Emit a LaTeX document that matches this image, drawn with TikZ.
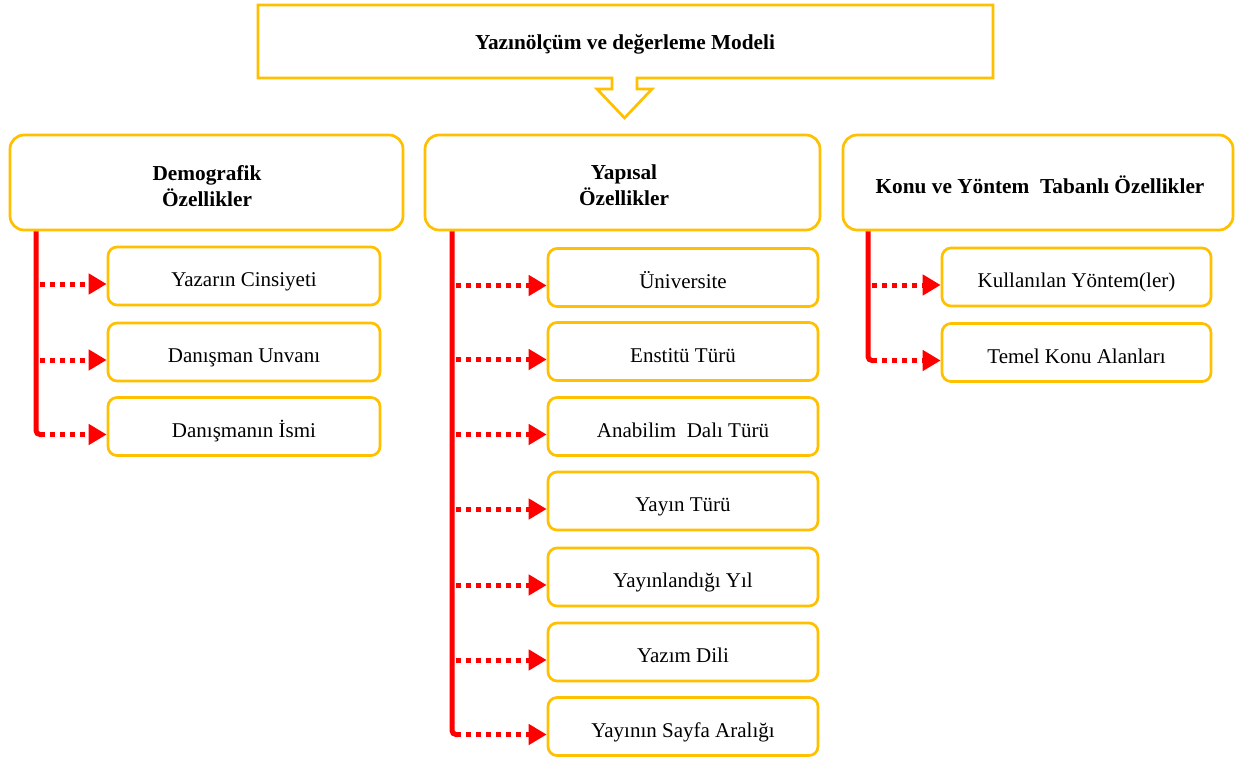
\documentclass[tikz,border=0pt]{standalone}
\usepackage{fontspec}
\setmainfont{Liberation Serif}
\usetikzlibrary{arrows.meta,calc}
\definecolor{gold}{HTML}{FFC000}
\definecolor{myred}{HTML}{FF0000}
\begin{document}
\begin{tikzpicture}[x=1pt,y=-1pt,
  hdr/.style={draw=gold,line width=2.7pt,rounded corners=14pt,fill=white,align=center,
    font=\fontsize{21.3}{26}\selectfont\bfseries,inner sep=0pt,minimum height=95pt},
  sub/.style={draw=gold,line width=2.7pt,rounded corners=9pt,fill=white,minimum height=58pt,
    inner sep=0pt,text height=25pt,text depth=4pt,font=\fontsize{21}{24}\selectfont},
  trunk/.style={draw=myred,line width=5pt,rounded corners=4pt},
  dotarrow/.style={draw=myred,line width=5pt,dash pattern=on 5pt off 5pt,
    -{Triangle[length=18pt,width=20pt,fill=myred]}}
]
\useasboundingbox (0,0) rectangle (1236,763);
\fill[white] (0,0) rectangle (1236,763);

% top callout
\draw[draw=gold,line width=2.7pt,line join=miter]
  (258,5) -- (993,5) -- (993,78) -- (637,78) -- (637,89) -- (652,89) -- (624.5,118)
  -- (597,89) -- (612,89) -- (612,78) -- (258,78) -- cycle;
\node[font=\fontsize{21.3}{24}\selectfont\bfseries] (title) at (625,44) {Yazınölçüm ve değerleme Modeli};

% headers
\node[hdr,minimum width=393pt] (H1) at (206.5,182.5) {};
\node[font=\fontsize{21.3}{26}\selectfont\bfseries,align=center] (H1t) at (207,186) {Demografik\\Özellikler};
\node[hdr,minimum width=395pt] (H2) at (622.5,182.5) {};
\node[font=\fontsize{21.3}{26}\selectfont\bfseries,align=center] (H2t) at (624,185) {Yapısal\\Özellikler};
\node[hdr,minimum width=390pt] (H3) at (1038,182.5) {};
\node[font=\fontsize{21.3}{26}\selectfont\bfseries] (H3t) at (1040,185) {Konu ve Yöntem\ \ Tabanlı Özellikler};

% left items
\node[sub,minimum width=272pt] (L1) at (244,276) {Yazarın Cinsiyeti};
\node[sub,minimum width=272pt] (L2) at (244,352) {Danışman Unvanı};
\node[sub,minimum width=272pt] (L3) at (244,426.5) {Danışmanın İsmi};

% middle items
\node[sub,minimum width=270pt] (M1) at (683,277.5) {Üniversite};
\node[sub,minimum width=270pt] (M2) at (683,351.5) {Enstitü Türü};
\node[sub,minimum width=270pt] (M3) at (683,426.5) {Anabilim\ \ Dalı Türü};
\node[sub,minimum width=270pt] (M4) at (683,501) {Yayın Türü};
\node[sub,minimum width=270pt] (M5) at (683,577) {Yayınlandığı Yıl};
\node[sub,minimum width=270pt] (M6) at (683,652) {Yazım Dili};
\node[sub,minimum width=270pt] (M7) at (683,726.5) {Yayının Sayfa Aralığı};

% right items
\node[sub,minimum width=269pt] (R1) at (1076.5,277) {Kullanılan Yöntem(ler)};
\node[sub,minimum width=269pt] (R2) at (1076.5,352.5) {Temel Konu Alanları};

% trunk x positions
\coordinate (Lx) at (36,0);
\coordinate (Mx) at (452,0);
\coordinate (Rx) at (868,0);

% arrow rows
\foreach \n in {L1,L2,L3,M1,M2,M3,M4,M5,M6,M7,R1,R2}{
  \coordinate (a\n) at ($(\n.west)+(0,8)$);
}

% trunks
\draw[trunk] (H1.south -| Lx) -- (aL3 -| Lx) -- ($(aL3 -| Lx)+(6,0)$);
\draw[trunk] (H2.south -| Mx) -- (aM7 -| Mx) -- ($(aM7 -| Mx)+(6,0)$);
\draw[trunk] (H3.south -| Rx) -- (aR2 -| Rx) -- ($(aR2 -| Rx)+(6,0)$);

% dotted arrows
\foreach \n in {L1,L2,L3}{
  \draw[dotarrow] ($(a\n -| Lx)+(4,0)$) -- (a\n);
}
\foreach \n in {M1,M2,M3,M4,M5,M6,M7}{
  \draw[dotarrow] ($(a\n -| Mx)+(4,0)$) -- (a\n);
}
\foreach \n in {R1,R2}{
  \draw[dotarrow] ($(a\n -| Rx)+(4,0)$) -- (a\n);
}
\end{tikzpicture}
\end{document}
